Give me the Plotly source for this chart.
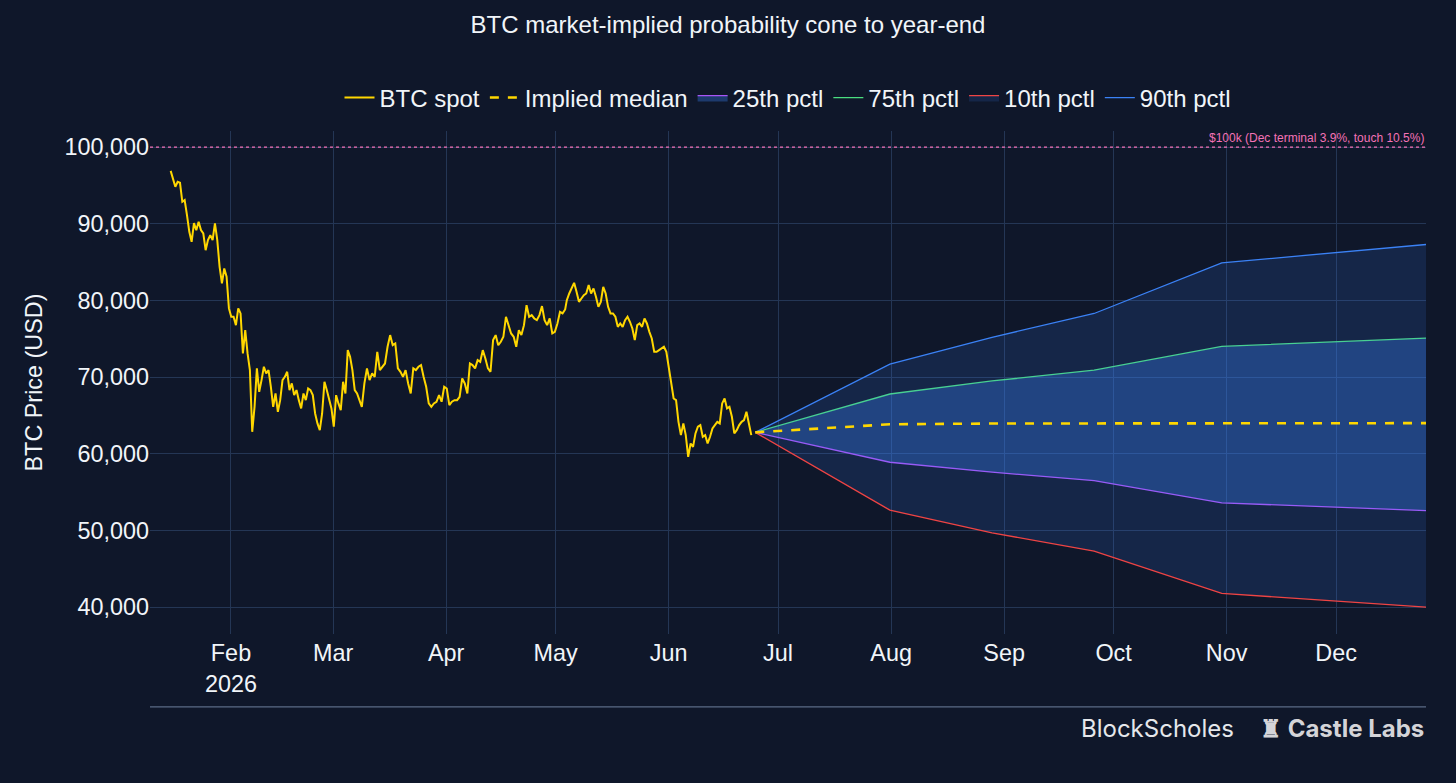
import pandas as pd
import plotly.graph_objects as go

# BTC spot in three stretches (start, end, values)
spot_a_start, spot_a_end = "2026-01-15 11:00", "2026-03-08 05:00"
spot_a = [96900, 95700, 94830, 95480, 95350, 92870, 93090, 91130, 88950, 87650,
          90090, 89170, 90260, 89170, 88740, 86560, 87870, 88520, 87870, 90050,
          87870, 84390, 82220, 84170, 83090, 78960, 77870, 77870, 76780, 78960,
          78310, 73090, 76130, 73090, 70910, 62870, 66130, 71140, 68090, 69610,
          71350, 70480, 70910, 68740, 66130, 67870, 65480, 67000, 69610, 70040,
          70700, 68310, 69180, 67650, 68310, 67000, 65920, 67870, 67000, 68520,
          68310, 67650, 65260, 63960, 63090, 65260, 69390, 68310, 67220, 65920,
          63530, 67650, 66570, 65700, 69390, 67870, 73520, 72650, 70910, 68310,
          67870, 67000]

spot_b_start, spot_b_end = "2026-03-08 21:00", "2026-05-03 15:00"
spot_b = [66130, 69180, 71140, 69610, 70480, 70040, 73300, 70910, 71350, 71780,
          73960, 75480, 74170, 74390, 71140, 70700, 70040, 70910, 69180, 67870,
          71140, 70910, 71350, 71570, 70040, 68740, 66570, 66130, 66570, 66790,
          67650, 66790, 68740, 68520, 66350, 66790, 67000, 67000, 67440, 69830,
          69180, 67870, 71780, 71570, 71140, 72220, 72000, 73520, 72440, 71140,
          70700, 74830, 75480, 74170, 74610, 75260, 77870, 76780, 75700, 75260,
          73960, 76130, 75480, 76780, 79390, 77870, 78090, 77650, 77430, 78090,
          79260, 77430, 76780, 77650, 75700, 75910, 77000, 78520, 78310, 78830]

spot_c_start, spot_c_end = "2026-05-04 02:00", "2026-06-23 16:00"
spot_c = [80040, 80910, 81570, 82300, 81130, 79820, 80260, 80690, 80910, 82000,
          80910, 81570, 80480, 79170, 79820, 81780, 80910, 79170, 78310, 78310,
          77870, 76560, 77000, 76560, 77430, 77870, 77220, 76350, 74830, 76780,
          77000, 76560, 77650, 77000, 75910, 75040, 73300, 73300, 73520, 73740,
          73960, 73300, 71350, 69610, 67220, 67000, 64170, 62440, 63960, 62440,
          59610, 61350, 60910, 62660, 63530, 63740, 62220, 62440, 61350, 62220,
          63310, 63740, 64170, 63960, 66570, 67220, 65920, 66130, 64830, 62660,
          63090, 63740, 64170, 64390, 65480, 63960, 62440]

# implied cone at each expiry
cone_dates = ["2026-06-24 18:00", "2026-07-31 16:00", "2026-08-28 16:00",
              "2026-09-25 16:00", "2026-10-30 16:00", "2026-12-25 16:00"]
p10 = [62800, 52650, 49700, 47300, 41800, 40000]
p25 = [62800, 58900, 57600, 56500, 53600, 52600]
p50 = [62800, 63850, 63950, 63950, 64000, 64000]
p75 = [62800, 67800, 69500, 70900, 74000, 75100]
p90 = [62800, 71700, 75200, 78300, 84900, 87300]

barrier = 100000
barrier_label = "$100k (Dec terminal 3.9%, touch 10.5%)"

month_ticks = ["2026-02-01", "2026-03-01", "2026-04-01", "2026-05-01", "2026-06-01",
               "2026-07-01", "2026-08-01", "2026-09-01", "2026-10-01", "2026-11-01",
               "2026-12-01"]
month_labels = ["Feb<br>2026", "Mar", "Apr", "May", "Jun", "Jul", "Aug", "Sep",
                "Oct", "Nov", "Dec"]

spot_x = []
spot_y = []
for start, end, vals in [(spot_a_start, spot_a_end, spot_a),
                         (spot_b_start, spot_b_end, spot_b),
                         (spot_c_start, spot_c_end, spot_c)]:
    spot_x += list(pd.date_range(start, end, periods=len(vals)))
    spot_y += vals

BG = "#0f172a"
GRID = "#243655"
TXT = "#f1f5f9"
FS = 23.4

fig = go.Figure()
fig.add_trace(go.Scatter(x=cone_dates, y=p75, mode="lines", name="75th pctl",
                         line=dict(color="#4ade80", width=1.3), legendrank=4))
fig.add_trace(go.Scatter(x=cone_dates, y=p25, mode="lines", name="25th pctl",
                         line=dict(color="#a855f7", width=1.3), fill="tonexty",
                         fillcolor="rgba(59,130,246,0.33)", legendrank=3))
fig.add_trace(go.Scatter(x=cone_dates, y=p90, mode="lines", name="90th pctl",
                         line=dict(color="#3b82f6", width=1.3), legendrank=6))
fig.add_trace(go.Scatter(x=cone_dates, y=p10, mode="lines", name="10th pctl",
                         line=dict(color="#ef4444", width=1.3), fill="tonexty",
                         fillcolor="rgba(59,130,246,0.15)", legendrank=5))
fig.add_trace(go.Scatter(x=cone_dates, y=p50, mode="lines", name="Implied median",
                         line=dict(color="#ffd700", width=2.6, dash="dash"), legendrank=2))
fig.add_trace(go.Scatter(x=spot_x, y=spot_y, mode="lines", name="BTC spot",
                         line=dict(color="#ffd700", width=2), legendrank=1))

fig.add_hline(y=barrier, line_dash="dot", line_color="#f472b6", line_width=1.3,
              annotation_text=barrier_label, annotation_position="top right",
              annotation_font=dict(color="#f472b6", size=12))

# footer rule and logos
fig.add_shape(type="line", xref="paper", yref="paper", x0=0, x1=1, y0=-0.145, y1=-0.145,
              line=dict(color="#5b6b86", width=1.3))
fig.add_annotation(text="BlockScholes", xref="paper", yref="paper", x=0.851, y=-0.187,
                   xanchor="right", yanchor="middle", showarrow=False,
                   font=dict(size=24, color="#e5e7eb", family="Inter"))
fig.add_annotation(text="<b>♜ Castle Labs</b>", xref="paper", yref="paper", x=1.0, y=-0.187,
                   xanchor="right", yanchor="middle", showarrow=False,
                   font=dict(size=24, color="#d4d4d8", family="Inter"))

fig.update_layout(
    width=1456, height=783,
    paper_bgcolor=BG, plot_bgcolor=BG,
    font=dict(family="Liberation Sans, Arial, sans-serif", size=FS, color=TXT),
    title=dict(text="BTC market-implied probability cone to year-end", x=0.5, xanchor="center",
               y=0.969, yanchor="middle", font=dict(size=24, color=TXT)),
    legend=dict(orientation="h", x=0.5, xanchor="center", y=1.021, yanchor="bottom",
                traceorder="normal", bgcolor="rgba(0,0,0,0)", font=dict(size=24, color=TXT)),
    margin=dict(l=150, r=30, t=131, b=149),
    showlegend=True,
)
fig.update_xaxes(range=["2026-01-09 19:00", "2026-12-25 16:00"],
                 tickvals=month_ticks, ticktext=month_labels, ticklabelstandoff=3,
                 showgrid=True, gridcolor=GRID, gridwidth=1.3, zeroline=False,
                 showline=False, tickfont=dict(size=FS, color=TXT))
fig.update_yaxes(range=[36500, 102100], dtick=10000, tickformat=",",
                 title=dict(text="BTC Price (USD)", font=dict(size=FS, color=TXT)),
                 showgrid=True, gridcolor=GRID, gridwidth=1.3, zeroline=False,
                 showline=False, tickfont=dict(size=FS, color=TXT))

fig.write_html("out.html", config={"displayModeBar": False},
               post_script="document.body.style.margin='0';"
                           "document.body.style.background='#0f172a';")
